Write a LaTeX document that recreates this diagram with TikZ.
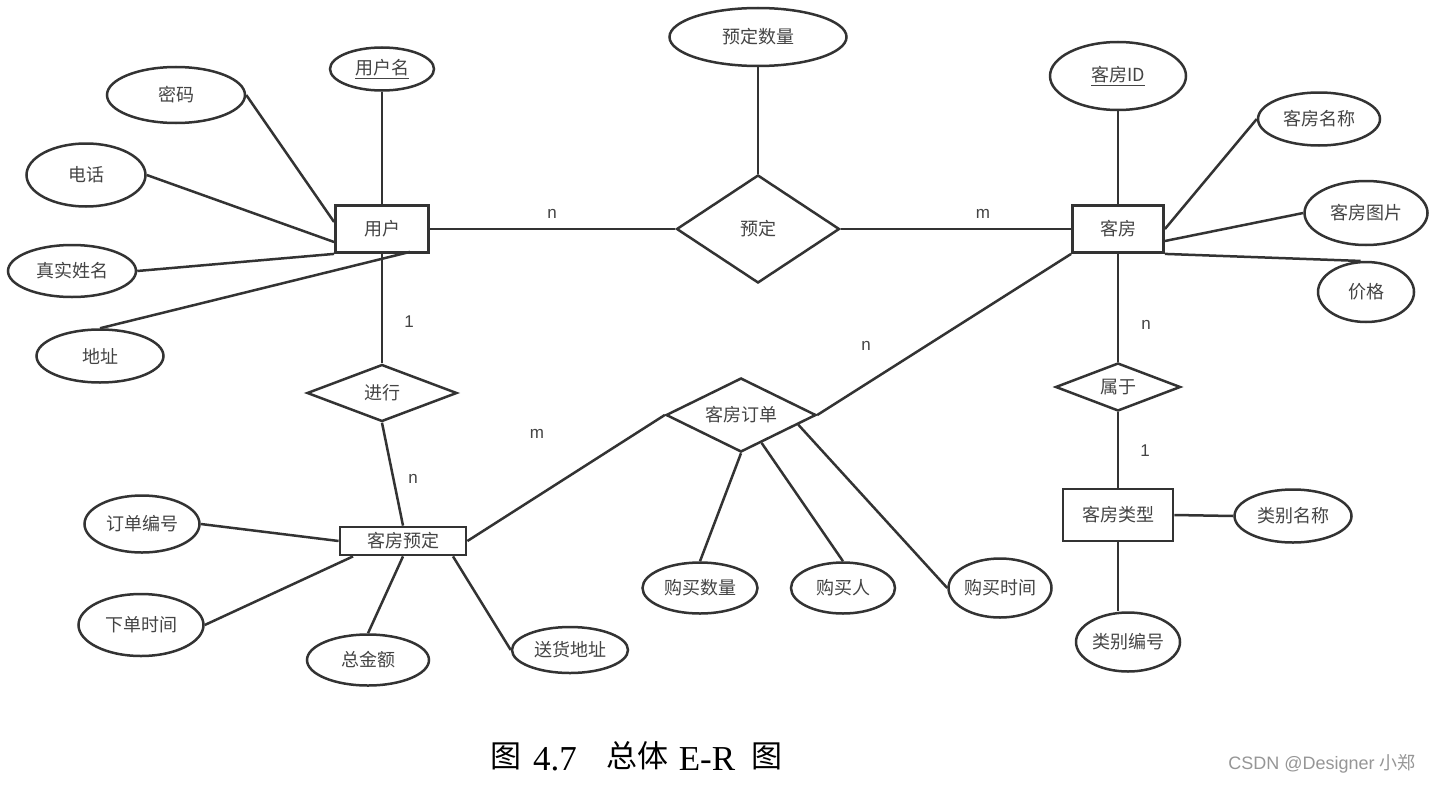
\documentclass[tikz,border=0pt]{standalone}
\usepackage{fontspec}
\setmainfont{Liberation Serif}
\newfontfamily\cjk{Noto Sans CJK SC}
\newfontfamily\labf{Liberation Sans}
\usetikzlibrary{shapes.geometric,calc}
\definecolor{linec}{RGB}{51,51,51}
\definecolor{txtc}{RGB}{68,68,68}
\definecolor{wmc}{RGB}{150,150,150}
\tikzset{
  attr/.style={ellipse, draw=linec, line width=2.5pt, inner sep=0pt, text=txtc, font=\cjk\fontsize{18}{21}\selectfont},
  ent/.style={rectangle, draw=linec, line width=2.8pt, inner sep=0pt, text=txtc, font=\cjk\fontsize{18}{21}\selectfont},
  rel/.style={diamond, aspect=2, draw=linec, line width=2.5pt, inner sep=0pt, text=txtc, font=\cjk\fontsize{18}{21}\selectfont},
  conn/.style={draw=linec, line width=2.5pt},
  card/.style={text=txtc, font=\labf\fontsize{17}{19}\selectfont},
  capc/.style={text=black, font=\cjk\fontsize{31}{34}\selectfont},
  capl/.style={text=black, font=\fontsize{35}{38}\selectfont, anchor=base, inner sep=0pt},
  wmark/.style={text=wmc, font=\labf\fontsize{18}{21}\selectfont}
}
\begin{document}
\begin{tikzpicture}[x=1pt,y=-1pt]
\useasboundingbox[fill=white] (0,0) rectangle (1434,784);

% entities
\node[ent, minimum width=93pt, minimum height=47pt] (user) at (382,229) {用户};
\node[ent, minimum width=91pt, minimum height=47pt] (kf) at (1118,229) {客房};
\node[ent, minimum width=126pt, minimum height=28pt] (kfyd) at (403,541) {客房预定};
\node[ent, minimum width=110pt, minimum height=52pt] (kflx) at (1118,515) {客房类型};

% relationships
\node[rel, minimum width=163pt, minimum height=108pt] (yd) at (758,229) {预定};
\node[rel, minimum width=150pt, minimum height=57pt] (jx) at (382,393) {进行};
\node[rel, minimum width=150pt, minimum height=74pt] (kfdd) at (741,415) {客房订单};
\node[rel, minimum width=125pt, minimum height=48pt] (sy) at (1118,387) {属于};

% attributes
\node[attr, minimum width=177pt, minimum height=58pt] (ydsl) at (758,37) {预定数量};
\node[attr, minimum width=104pt, minimum height=43pt] (yhm) at (382,69) {\underline{用户名}};
\node[attr, minimum width=138pt, minimum height=56pt] (mima) at (176,95) {密码};
\node[attr, minimum width=119pt, minimum height=63pt] (dh) at (86,175) {电话};
\node[attr, minimum width=128pt, minimum height=52pt] (zsxm) at (72,271) {真实姓名};
\node[attr, minimum width=127pt, minimum height=53pt] (dz) at (100,356) {地址};
\node[attr, minimum width=136pt, minimum height=68pt] (kfid) at (1118,76) {\underline{客房ID}};
\node[attr, minimum width=122pt, minimum height=53pt] (kfmc) at (1319,119) {客房名称};
\node[attr, minimum width=123pt, minimum height=64pt] (kftp) at (1366,213) {客房图片};
\node[attr, minimum width=96pt, minimum height=60pt] (jg) at (1366,292) {价格};
\node[attr, minimum width=117pt, minimum height=53pt] (lbmc) at (1293,516) {类别名称};
\node[attr, minimum width=104pt, minimum height=59pt] (lbbh) at (1128,642) {类别编号};
\node[attr, minimum width=115pt, minimum height=57pt] (ddbh) at (142,524) {订单编号};
\node[attr, minimum width=125pt, minimum height=62pt] (xdsj) at (141,625) {下单时间};
\node[attr, minimum width=122pt, minimum height=51pt] (zje) at (368,660) {总金额};
\node[attr, minimum width=116pt, minimum height=46pt] (shdz) at (570,650) {送货地址};
\node[attr, minimum width=115pt, minimum height=51pt] (gmsl) at (700,588) {购买数量};
\node[attr, minimum width=104pt, minimum height=51pt] (gmr) at (843,588) {购买人};
\node[attr, minimum width=103pt, minimum height=59pt] (gmsj) at (1000,588) {购买时间};

% connectors: user
\draw[conn] (yhm) -- (user);
\draw[conn] (mima.east) -- ([yshift=7pt]user.west);
\draw[conn] (dh.east) -- ([yshift=-13pt]user.west);
\draw[conn] (zsxm.east) -- (user.south west);
\draw[conn] (dz.north) -- ([xshift=28pt,yshift=2pt]user.south);
\draw[conn] (user.south) -- (jx.north);
\draw[conn] (jx.south) -- (kfyd.north);
\draw[conn] (user.east) -- (yd.west);
\draw[conn] (yd.east) -- (kf.west);
\draw[conn] (ydsl) -- (yd);

% connectors: room
\draw[conn] (kfid) -- (kf);
\draw[conn] (kf.east) -- (kfmc.west);
\draw[conn] ([yshift=-12pt]kf.east) -- (kftp.west);
\draw[conn] (kf.south east) -- (jg.100);
\draw[conn] (kf.south) -- (sy.north);
\draw[conn] (sy.south) -- (kflx.north);
\draw[conn] (kflx.east) -- (lbmc.west);
\draw[conn] (kflx.south) -- (kflx.south |- lbbh.north);
\draw[conn] (kf.south west) -- (kfdd.east);

% connectors: order
\draw[conn] (kfyd.east) -- (kfdd.west);
\draw[conn] (kfdd.south) -- (gmsl.north);
\draw[conn] ($(kfdd.south)!0.27!(kfdd.east)$) -- (gmr.north);
\draw[conn] ($(kfdd.south)!0.75!(kfdd.east)$) -- (gmsj.west);

% connectors: booking
\draw[conn] (ddbh.east) -- (kfyd.west);
\draw[conn] (xdsj.east) -- ([xshift=-50pt]kfyd.south);
\draw[conn] (zje.north) -- (kfyd.south);
\draw[conn] ([xshift=50pt]kfyd.south) -- (shdz.west);

% cardinalities
\node[card] (c1) at (409,322) {1};
\node[card] (c2) at (413,479) {n};
\node[card] (c3) at (552,214) {n};
\node[card] (c4) at (983,214) {m};
\node[card] (c5) at (1146,325) {n};
\node[card] (c6) at (1145,451) {1};
\node[card] (c7) at (866,346) {n};
\node[card] (c8) at (537,434) {m};

% caption
\node[capc] (t1) at (506,756) {图};
\node[capl] (t2) at (555,770) {4.7};
\node[capc] (t3) at (637,756) {总体};
\node[capl] (t4) at (707,770) {E-R};
\node[capc] (t5) at (767,756) {图};

% watermark
\node[wmark] (wm) at (1322,764) {CSDN @Designer {\cjk 小郑}};
\end{tikzpicture}
\end{document}
